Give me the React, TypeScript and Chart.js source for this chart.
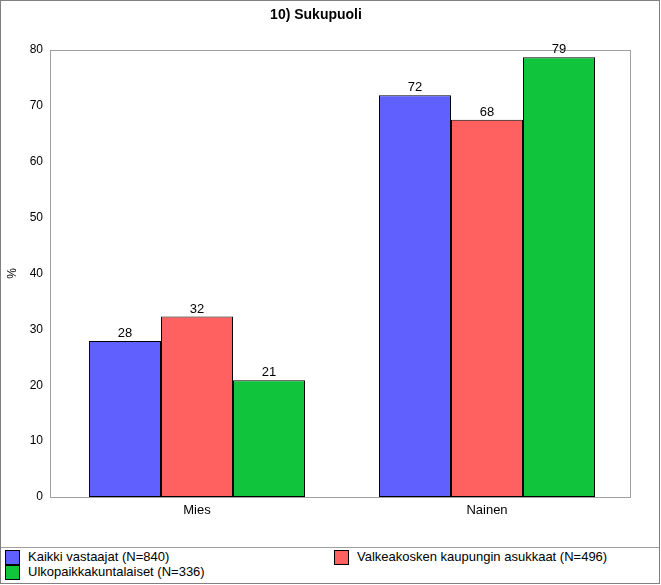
import React, { useEffect, useRef } from "react";
import { Chart, registerables } from "chart.js";

Chart.register(...registerables);

const TITLE = "10) Sukupuoli";
const CATEGORIES = ["Mies", "Nainen"];
const SERIES_NAMES = [
  "Kaikki vastaajat (N=840)",
  "Valkeakosken kaupungin asukkaat (N=496)",
  "Ulkopaikkakuntalaiset (N=336)",
];
const KAIKKI = [27.9, 71.9];
const VALKEAKOSKI = [32.3, 67.5];
const ULKO = [20.9, 78.7];
const COLORS = ["#6060ff", "#ff6060", "#10c43c"];
const Y_LABEL = "%";
const Y_MIN = 0;
const Y_MAX = 80;
const Y_STEP = 10;

const FONT = "'Liberation Sans', Arial, sans-serif";

const framePlugin = {
  id: "frameAndLabels",
  beforeDatasetsDraw(chart: any) {
    const { ctx, chartArea } = chart;
    const left = Math.round(chartArea.left) - 2;
    const right = Math.round(chartArea.right) - 2;
    ctx.save();
    ctx.strokeStyle = "#a0a0a0";
    ctx.lineWidth = 1;
    ctx.strokeRect(
      left + 0.5,
      Math.round(chartArea.top) + 0.5,
      right - left,
      Math.round(chartArea.bottom - chartArea.top)
    );
    ctx.restore();
  },
  afterDatasetsDraw(chart: any) {
    const { ctx } = chart;
    ctx.save();
    ctx.fillStyle = "#000";
    ctx.font = `13px ${FONT}`;
    ctx.textAlign = "center";
    ctx.textBaseline = "bottom";
    chart.data.datasets.forEach((ds: any, i: number) => {
      const meta = chart.getDatasetMeta(i);
      meta.data.forEach((bar: any, j: number) => {
        ctx.fillText(String(Math.round(ds.data[j])), bar.x, bar.y - 1);
      });
    });
    ctx.restore();
  },
};

export default function App() {
  const ref = useRef<HTMLCanvasElement>(null);

  useEffect(() => {
    if (!ref.current) return;
    const seriesData = [KAIKKI, VALKEAKOSKI, ULKO];
    const chart = new Chart(ref.current, {
      type: "bar",
      data: {
        labels: CATEGORIES,
        datasets: SERIES_NAMES.map((name, i) => ({
          label: name,
          data: seriesData[i],
          backgroundColor: COLORS[i],
          borderColor: "#000",
          borderWidth: 1,
          borderSkipped: false,
          categoryPercentage: 0.745,
          barPercentage: 1,
        })),
      },
      options: {
        responsive: false,
        animation: false,
        devicePixelRatio: 1,
        layout: { padding: { left: 0, right: 29, top: 0, bottom: 0 } },
        plugins: {
          legend: { display: false },
          tooltip: { enabled: false },
          title: {
            display: true,
            text: TITLE,
            color: "#000",
            font: { family: FONT, size: 14, weight: "bold" },
            padding: { top: 7, bottom: 26.2 },
          },
        },
        scales: {
          x: {
            grid: { display: false, drawTicks: false },
            border: { display: false },
            ticks: {
              color: "#000",
              font: { family: FONT, size: 13 },
              padding: 6,
            },
            afterFit(scale: any) {
              scale.height = 50;
            },
          },
          y: {
            min: Y_MIN,
            max: Y_MAX,
            grid: { display: false, drawTicks: false },
            border: { display: false },
            ticks: {
              stepSize: Y_STEP,
              color: "#000",
              font: { family: FONT, size: 12 },
              padding: 9,
            },
            title: {
              display: true,
              text: Y_LABEL,
              color: "#000",
              font: { family: FONT, size: 12 },
              padding: { top: 5, bottom: 0 },
            },
            afterFit(scale: any) {
              scale.width = 52;
            },
          },
        },
      },
      plugins: [framePlugin],
    });
    return () => chart.destroy();
  }, []);

  const legendItems = [
    { i: 0, left: 5, top: 550 },
    { i: 1, left: 334, top: 550 },
    { i: 2, left: 5, top: 565 },
  ];

  return (
    <div
      style={{
        position: "absolute",
        left: 0,
        top: 0,
        width: 661,
        height: 585,
        background: "#fff",
        fontFamily: FONT,
      }}
    >
      <canvas
        ref={ref}
        width={661}
        height={547}
        style={{ position: "absolute", left: 0, top: 0, width: 661, height: 547 }}
      />
      <div
        style={{
          position: "absolute",
          left: 0,
          top: 547,
          width: 660,
          height: 1,
          background: "#a0a0a0",
        }}
      />
      {legendItems.map(({ i, left, top }) => (
        <div key={i}>
          <div
            style={{
              position: "absolute",
              left,
              top,
              width: 13,
              height: 13,
              background: COLORS[i],
              border: "1px solid #000",
            }}
          />
          <div
            style={{
              position: "absolute",
              left: left + 23,
              top: top - 1,
              height: 16,
              lineHeight: "16px",
              fontSize: 13,
              color: "#000",
              whiteSpace: "nowrap",
            }}
          >
            {SERIES_NAMES[i]}
          </div>
        </div>
      ))}
      <div
        style={{
          position: "absolute",
          left: 0,
          top: 0,
          width: 660,
          height: 584,
          boxSizing: "border-box",
          border: "1px solid #808080",
          pointerEvents: "none",
        }}
      />
    </div>
  );
}
